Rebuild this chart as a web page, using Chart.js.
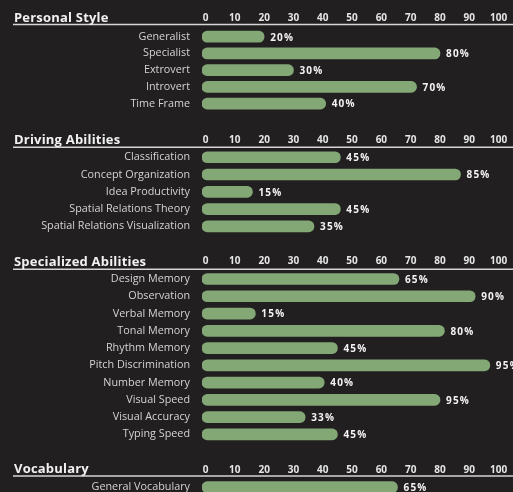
<!DOCTYPE html>
<html>
<head>
<meta charset="utf-8">
<script src="https://cdn.jsdelivr.net/npm/chart.js@4.4.1/dist/chart.umd.min.js"></script>
<style>
  html, body { margin: 0; padding: 0; background: #221f20; overflow: hidden; }
  #wrap { position: relative; width: 513px; height: 492px; }
  #wrap canvas { position: absolute; left: 0; }
</style>
</head>
<body>
<div id="wrap"></div>
<script>
// tick labels along the top of every section
const tickValues = [0, 10, 20, 30, 40, 50, 60, 70, 80, 90, 100];

// Personal Style
const personalLabels = ['Generalist', 'Specialist', 'Extrovert', 'Introvert', 'Time Frame'];
const personalBars = [20, 80, 30, 72, 41];      // bar lengths as drawn
const personalPct = [20, 80, 30, 70, 40];       // printed percentages

// Driving Abilities
const drivingLabels = ['Classification', 'Concept Organization', 'Idea Productivity',
  'Spatial Relations Theory', 'Spatial Relations Visualization'];
const drivingBars = [46, 87, 16, 46, 37];
const drivingPct = [45, 85, 15, 45, 35];

// Specialized Abilities
const specialLabels = ['Design Memory', 'Observation', 'Verbal Memory', 'Tonal Memory',
  'Rhythm Memory', 'Pitch Discrimination', 'Number Memory', 'Visual Speed',
  'Visual Accuracy', 'Typing Speed'];
const specialBars = [66, 92, 17, 81.5, 45, 97, 40.5, 80, 34, 45];
const specialPct = [65, 90, 15, 80, 45, 95, 40, 95, 33, 45];

// Vocabulary
const vocabLabels = ['General Vocabulary'];
const vocabBars = [65.5];
const vocabPct = [65];

const GREEN = '#83a876';
const AXIS_MIN = -1.2;
const FONT = '"Open Sans", sans-serif';

Chart.defaults.font.family = FONT;

// rule = underline y, top/bottom = bar area, tickY = centre of tick labels
const sections = [
  { title: 'Personal Style', labels: personalLabels, bars: personalBars, pct: personalPct,
    rule: 24.5, top: 28.3, bottom: 112.1, tickY: 18.3 },
  { title: 'Driving Abilities', labels: drivingLabels, bars: drivingBars, pct: drivingPct,
    rule: 147.3, top: 148.6, bottom: 235.4, tickY: 140.3 },
  { title: 'Specialized Abilities', labels: specialLabels, bars: specialBars, pct: specialPct,
    rule: 269.3, top: 270.4, bottom: 442.6, tickY: 261.3 },
  { title: 'Vocabulary', labels: vocabLabels, bars: vocabBars, pct: vocabPct,
    rule: 476, top: 478.4, bottom: 495.6, tickY: 470 },
];

const wrap = document.getElementById('wrap');

function buildSection(sec) {
  const canvasTop = Math.round(sec.rule - 24);
  const height = Math.round(sec.bottom - canvasTop);
  const axisH = sec.top - canvasTop;
  const tickPad = Math.max(0, sec.top - sec.tickY - 6);

  const canvas = document.createElement('canvas');
  canvas.width = 513;
  canvas.height = height;
  canvas.style.top = canvasTop + 'px';
  wrap.appendChild(canvas);

  const decor = {
    id: 'decor',
    afterDraw(chart) {
      const ctx = chart.ctx;
      const y = sec.rule - canvasTop;
      ctx.save();
      ctx.strokeStyle = '#d6d6d6';
      ctx.lineWidth = 1.5;
      ctx.beginPath();
      ctx.moveTo(13, y);
      ctx.lineTo(513, y);
      ctx.stroke();

      ctx.fillStyle = '#f2f2f2';
      ctx.font = 'bold 13px ' + FONT;
      ctx.letterSpacing = '0.2px';
      ctx.textBaseline = 'alphabetic';
      ctx.fillText(sec.title, 14, y - 3);
      ctx.restore();
    },
    afterDatasetsDraw(chart) {
      const ctx = chart.ctx;
      const meta = chart.getDatasetMeta(0);
      ctx.save();
      ctx.fillStyle = '#f4f4f4';
      ctx.font = 'bold 10px ' + FONT;
      ctx.letterSpacing = '1.2px';
      ctx.textBaseline = 'middle';
      meta.data.forEach((bar, i) => {
        ctx.fillText(sec.pct[i] + '%', bar.x + 6, bar.y + 1);
      });
      ctx.restore();
    }
  };

  new Chart(canvas, {
    type: 'bar',
    data: {
      labels: sec.labels,
      datasets: [{
        data: sec.bars,
        backgroundColor: GREEN,
        barThickness: 11,
        borderRadius: 6,
        borderSkipped: false,
        base: AXIS_MIN,
      }],
    },
    options: {
      responsive: false,
      animation: false,
      indexAxis: 'y',
      layout: { padding: { left: 0, right: 14.4, top: 0, bottom: 0 } },
      plugins: {
        legend: { display: false },
        tooltip: { enabled: false },
      },
      scales: {
        x: {
          position: 'top',
          min: AXIS_MIN,
          max: 100,
          afterBuildTicks: (s) => { s.ticks = tickValues.map(v => ({ value: v })); },
          afterFit: (s) => {
            s.height = axisH;
            s.paddingLeft = 0;
            s.paddingRight = 0;
          },
          grid: { display: false, drawTicks: false },
          border: { display: false },
          ticks: {
            color: '#e6e6e6',
            font: { size: 10, weight: 'bold' },
            padding: tickPad,
            maxRotation: 0,
            autoSkip: false,
          },
        },
        y: {
          afterFit: (s) => {
            s.width = 202;
            s.paddingTop = 0;
            s.paddingBottom = 0;
          },
          grid: { display: false, drawTicks: false },
          border: { display: false },
          ticks: {
            color: '#d4d4d4',
            font: { size: 10.8 },
            padding: 12,
            autoSkip: false,
          },
        },
      },
    },
    plugins: [decor],
  });
}

sections.forEach(buildSection);
</script>
</body>
</html>
